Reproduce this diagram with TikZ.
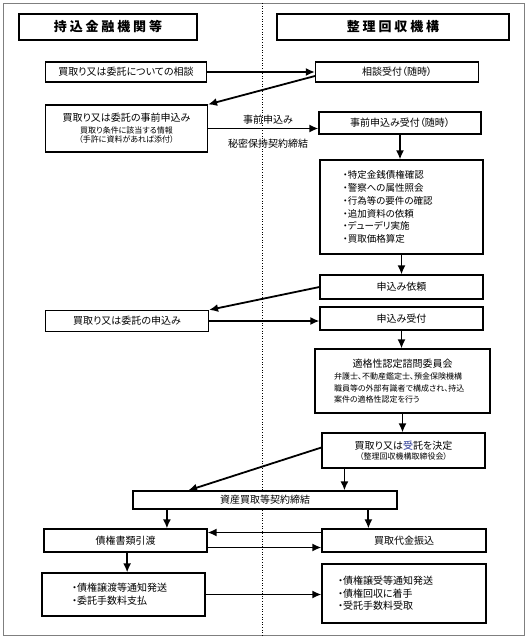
\documentclass[tikz,border=0pt]{standalone}
\usepackage{fontspec}
\setmainfont[RawFeature=+palt]{Noto Sans CJK JP}
\newfontfamily\hdfont[LetterSpace=22]{Noto Sans CJK JP}
\usetikzlibrary{arrows.meta,calc}
\definecolor{frm}{HTML}{7F7F7F}
\definecolor{navy}{HTML}{1F2F8F}
\newcommand{\fsz}[2]{\fontsize{#1}{#2}\selectfont}
\tikzset{
  bx/.style={draw,fill=white,line width=1.1pt,inner sep=1pt,font=\fsz{10}{12}},
  hd/.style={draw,fill=white,line width=1.1pt,inner sep=1pt,font=\hdfont\bfseries\fsz{13}{15}},
  sz/.style 2 args={minimum width=#1pt,minimum height=#2pt},
  ar/.style={line width=1.8pt,-{Latex[length=9pt,width=8pt]}},
  lb/.style={font=\fsz{10}{12}}}
\begin{document}
\begin{tikzpicture}[x=1pt,y=-1pt]
  \useasboundingbox (0,0) rectangle (529,640);
  \draw[frm,line width=.8pt] (3,3) rectangle (524,635);
  \draw[dotted,line width=.6pt] (262,3)--(262,635);
  \node[hd,sz={178}{26}] (hL) at (108,27) {持込金融機関等};
  \node[hd,sz={232}{26}] (hR) at (393,27) {整理回収機構};
  \node[bx,sz={161}{20}] (askL) at (126,72) {買取り又は委託についての相談};
  \node[bx,sz={163}{20}] (askR) at (397,72) {相談受付（随時）};
  \node[bx,sz={162}{47},align=center] (preL) at (126.5,128.5) {買取り又は委託の事前申込み\\{\fsz{8}{9}買取り条件に該当する情報}\\[-3pt]{\fsz{8}{9}（手許に資料があれば添付）}};
  \node[bx,sz={162}{22}] (preR) at (400,123) {事前申込み受付（随時）};
  \node[lb] (lbA) at (268,120) {事前申込み};
  \node[lb] (lbB) at (268,144) {秘密保持契約締結};
  \node[bx,sz={163}{94},align=left,text width=117pt,inner xsep=23pt,font=\fsz{9.5}{12.8}] (chk) at (401.5,207) {・特定金銭債権確認\\・警察への属性照会\\・行為等の要件の確認\\・追加資料の依頼\\・デューデリ実施\\・買取価格算定};
  \node[bx,sz={163}{24}] (req) at (401.5,287) {申込み依頼};
  \node[bx,sz={163}{23}] (rcv) at (401.5,318.5) {申込み受付};
  \node[bx,sz={163}{21}] (app) at (127,321) {買取り又は委託の申込み};
  \node[bx,sz={175}{64},align=left,text width=137pt,inner xsep=19pt] (cmt) at (402.5,381) {\makebox[137pt]{適格性認定諮問委員会}\\{\fsz{8}{9}弁護士、不動産鑑定士、預金保険機構}\\{\fsz{8}{9}職員等の外部有識者で構成され、持込}\\[-1pt]{\fsz{8}{9}案件の適格性認定を行う}};
  \node[bx,sz={163}{35},align=center] (dec) at (403.5,450.5) {買取り又は{\color{navy}受}託を決定\\[-2pt]{\fsz{8}{9}（整理回収機構取締役会）}};
  \node[bx,sz={264}{18}] (ctr) at (265,500) {資産買取等契約締結};
  \node[bx,sz={163}{23}] (doc) at (125.5,540.5) {債権書類引渡};
  \node[bx,sz={164}{23}] (pay) at (404,540.5) {買取代金振込};
  \node[bx,sz={163}{43},align=left,text width=103pt,inner xsep=30pt,font=\fsz{10}{13}] (ntL) at (123.5,594.5) {・債権譲渡等通知発送\\・委託手数料支払};
  \node[bx,sz={164}{59},align=left,text width=132pt,inner xsep=16pt,font=\fsz{10}{12.5}] (ntR) at (404,593.5) {・債権譲受等通知発送\\・債権回収に着手\\・受託手数料受取};
  \draw[ar] (askL.east)--(askR.west);
  \draw[ar] ([yshift=-4pt]askR.west)--(preL.north east);
  \draw[ar] (preL.east)--(preL.east -| preR.west);
  \draw[ar] (preR.south)--(preR.south |- chk.north);
  \draw[ar] (chk.south)--(req.north);
  \draw[ar] (req.west)--(app.north east);
  \draw[ar] (app.east)--(app.east -| rcv.west);
  \draw[ar] (rcv.south)--(rcv.south |- cmt.north);
  \draw[ar] (cmt.south)--(cmt.south |- dec.north);
  \draw[ar] ([yshift=3pt]dec.west)--($(ctr.north west)!.21!(ctr.north east)$);
  \coordinate (d1) at ($(dec.south west)!.14!(dec.south east)$);
  \draw[ar] (d1)--(d1 |- ctr.north);
  \coordinate (c1) at ($(ctr.south west)!.13!(ctr.south east)$);
  \coordinate (c2) at ($(ctr.south west)!.89!(ctr.south east)$);
  \draw[ar] (c1)--(c1 |- doc.north);
  \draw[ar] (c2)--(c2 |- pay.north);
  \draw[ar] ([yshift=8pt]pay.west)--([yshift=8pt]pay.west -| doc.east);
  \draw[ar] ([yshift=-7pt]doc.east)--([yshift=-7pt]doc.east -| pay.west);
  \coordinate (e1) at ($(doc.south west)!.51!(doc.south east)$);
  \draw[ar] (e1)--(e1 |- ntL.north);
  \draw[ar] (ntL.east)--(ntL.east -| ntR.west);
\end{tikzpicture}
\end{document}
